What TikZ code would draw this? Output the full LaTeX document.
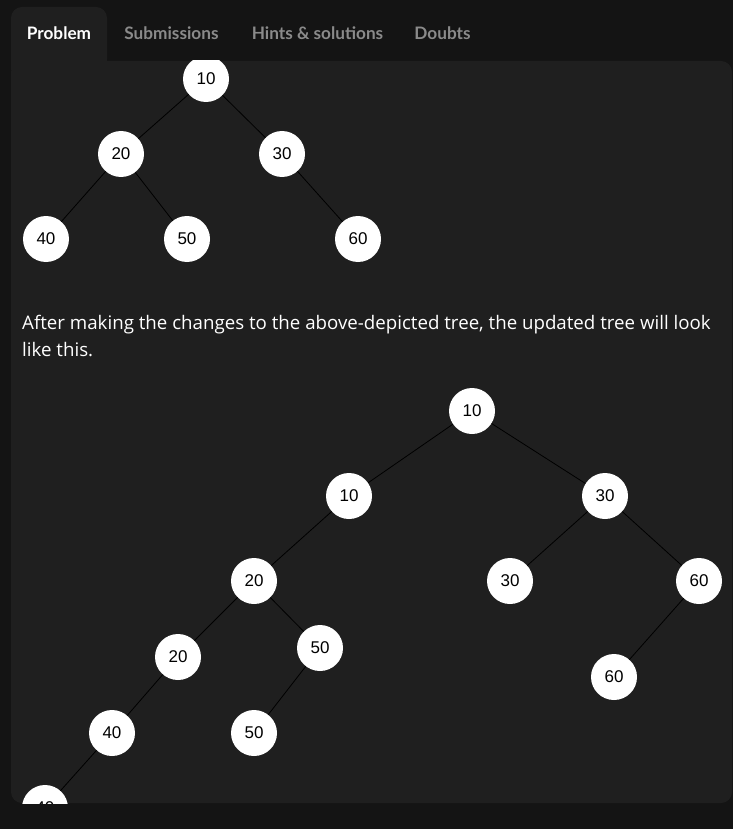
\documentclass[tikz,border=0pt]{standalone}
\usepackage{fontspec}
\setmainfont{Lato}
\newfontfamily\numfont{Liberation Sans}
\newfontfamily\bodyfont{Open Sans}
\definecolor{outerbg}{HTML}{141414}
\definecolor{panelbg}{HTML}{1F1F1F}
\definecolor{tabgrey}{HTML}{8A8A8A}
\tikzset{
  tn/.style={circle,fill=white,minimum size=46pt,inner sep=0pt,font=\numfont\fontsize{17}{17}\selectfont,text=black},
  edge/.style={draw=black,line width=0.8pt},
  tablabel/.style={font=\bfseries\fontsize{17.2}{17.2}\selectfont,anchor=base},
  bodytext/.style={anchor=base west,text=white,font=\bodyfont\fontsize{18.7}{18.7}\selectfont,inner sep=0pt},
}
\begin{document}
\begin{tikzpicture}[x=1pt,y=-1pt]
\useasboundingbox (0,0) rectangle (733,829);
\fill[outerbg] (0,0) rectangle (733,829);
% tab
\fill[panelbg,rounded corners=11pt] (11,70) -- (11,7) -- (107,7) -- (107,70) -- cycle;
% panel
\fill[panelbg,rounded corners=11pt] (11,61) -- (732,61) -- (732,803) -- (11,803) -- cycle;
\fill[panelbg] (11,55) rectangle (107,70);
% tab labels
\node[tablabel,text=white] (tP) at (59,40) {Problem};
\node[tablabel,text=tabgrey] (tS) at (171.5,40) {Submissions};
\node[tablabel,text=tabgrey] (tH) at (317.5,40) {Hints \& solutions};
\node[tablabel,text=tabgrey] (tD) at (442.5,40) {Doubts};
% text
\node[bodytext] (l1) at (22,329) {After making the changes to the above-depicted tree, the updated tree will look};
\node[bodytext] (l2) at (22,356) {like this.};
\begin{scope}
\clip (11,61) rectangle (732,803);
% top tree
\node[tn] (a10) at (206,79) {10};
\node[tn] (a20) at (121,154) {20};
\node[tn] (a30) at (282,154) {30};
\node[tn] (a40) at (46,239) {40};
\node[tn] (a50) at (187,239) {50};
\node[tn] (a60) at (358,239) {60};
% bottom tree
\node[tn] (b10) at (472,411) {10};
\node[tn] (c10) at (349,496) {10};
\node[tn] (c30) at (605,496) {30};
\node[tn] (d20) at (254,581) {20};
\node[tn] (d30) at (510,581) {30};
\node[tn] (d60) at (699,581) {60};
\node[tn] (e20) at (178,657) {20};
\node[tn] (e50) at (320,648) {50};
\node[tn] (e60) at (614,677) {60};
\node[tn] (f40) at (112,733) {40};
\node[tn] (f50) at (254,733) {50};
\node[tn] (g40) at (45,808) {40};
% edges
\draw[edge] (a10) -- (a20);
\draw[edge] (a10) -- (a30);
\draw[edge] (a20) -- (a40);
\draw[edge] (a20) -- (a50);
\draw[edge] (a30) -- (a60);
\draw[edge] (b10) -- (c10);
\draw[edge] (b10) -- (c30);
\draw[edge] (c10) -- (d20);
\draw[edge] (c30) -- (d30);
\draw[edge] (c30) -- (d60);
\draw[edge] (d20) -- (e20);
\draw[edge] (d20) -- (e50);
\draw[edge] (d60) -- (e60);
\draw[edge] (e20) -- (f40);
\draw[edge] (e50) -- (f50);
\draw[edge] (f40) -- (g40);
\end{scope}
\end{tikzpicture}
\end{document}
